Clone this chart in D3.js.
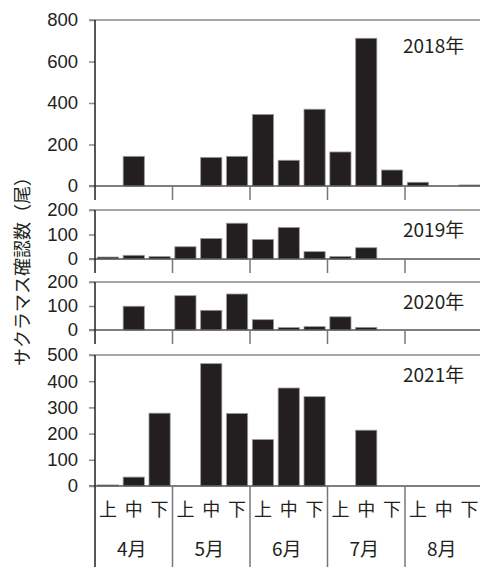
<!DOCTYPE html>
<html>
<head>
<meta charset="utf-8">
<script src="https://cdn.jsdelivr.net/npm/d3@7"></script>
<style>
  body { margin: 0; background: #fff; }
  .tick text { font-family: "Liberation Sans", Arial, sans-serif; font-size: 18.5px; fill: #231f20; }
  .jp { font-family: "Noto Sans CJK JP", sans-serif; fill: #231f20; }
</style>
</head>
<body>
<svg id="chart" width="480" height="567"></svg>
<script>
const months = ['4月', '5月', '6月', '7月', '8月'];
const decades = ['上', '中', '下'];
const years = ['2018年', '2019年', '2020年', '2021年'];
const yMax = [800, 200, 200, 500];
const yStep = [200, 100, 100, 100];

// values per decade: Apr上,中,下, May上,中,下, ... Aug上,中,下
const counts2018 = [0, 143, 0, 0, 138, 143, 345, 124, 370, 164, 712, 77, 18, 0, 5];
const counts2019 = [8, 15, 10, 50, 84, 146, 80, 129, 30, 10, 46, 0, 0, 0, 0];
const counts2020 = [0, 99, 0, 143, 82, 150, 43, 10, 14, 55, 11, 0, 0, 0, 0];
const counts2021 = [4, 34, 278, 0, 467, 277, 177, 374, 341, 0, 213, 0, 0, 0, 0];
const series = [counts2018, counts2019, counts2020, counts2021];

const yTitle = 'サクラマス確認数（尾）';

const svg = d3.select('#chart');
const left = 95;
const right = 482.5;
const panels = [
  { top: 20, bottom: 186 },
  { top: 210, bottom: 259 },
  { top: 282, bottom: 330 },
  { top: 355, bottom: 486 }
];

const slots = d3.range(15).map(i => months[Math.floor(i / 3)] + decades[i % 3]);
const xScale = d3.scaleBand()
  .domain(slots)
  .range([left, right])
  .paddingInner(0.18)
  .paddingOuter(0.09);
const monthScale = d3.scaleBand()
  .domain(months)
  .range([left, right]);
const monthEdges = months.map(m => monthScale(m));

panels.forEach((p, k) => {
  const yScale = d3.scaleLinear()
    .domain([0, yMax[k]])
    .range([p.bottom, p.top]);
  const g = svg.append('g');

  // top frame line
  g.append('line')
    .attr('x1', left - 6).attr('x2', 480)
    .attr('y1', p.top).attr('y2', p.top)
    .attr('stroke', '#8a8a8a').attr('stroke-width', 1.5);

  g.selectAll('rect').data(series[k])
    .enter().append('rect')
      .attr('x', (d, i) => xScale(slots[i]))
      .attr('y', d => yScale(d))
      .attr('width', xScale.bandwidth())
      .attr('height', d => p.bottom - yScale(d))
      .attr('fill', '#231f20')
      .attr('stroke', '#9a9a9a')
      .attr('stroke-width', 0.8);

  // baseline
  g.append('line')
    .attr('x1', left - 6).attr('x2', 480)
    .attr('y1', p.bottom).attr('y2', p.bottom)
    .attr('stroke', '#555').attr('stroke-width', 1.5);

  const yAxis = d3.axisLeft(yScale)
    .tickValues(d3.range(0, yMax[k] + 1, yStep[k]))
    .tickSize(6)
    .tickPadding(11);
  const yAxisG = g.append('g')
    .attr('transform', `translate(${left},0)`)
    .call(yAxis);
  yAxisG.select('.domain').remove();
  yAxisG.selectAll('.tick line').attr('stroke', '#8a8a8a').attr('stroke-width', 1.5);

  // month separator ticks below the baseline
  const tickEnd = k === 3 ? 567 : p.bottom + 14;
  g.selectAll('.sep').data(monthEdges)
    .enter().append('line')
      .attr('class', 'sep')
      .attr('x1', d => d).attr('x2', d => d)
      .attr('y1', p.bottom).attr('y2', tickEnd)
      .attr('stroke', (d, i) => i === 0 ? '#231f20' : '#777')
      .attr('stroke-width', 1.5);

  // left axis line
  g.append('line')
    .attr('x1', left).attr('x2', left)
    .attr('y1', p.top).attr('y2', p.bottom)
    .attr('stroke', '#231f20').attr('stroke-width', 1.5);

  g.append('text')
    .attr('class', 'jp')
    .attr('x', 403)
    .attr('y', (p.top + (k === 0 ? 26 : 20)))
    .attr('dy', '0.35em')
    .style('font-size', '19px')
    .text(years[k]);
});

// decade labels
svg.selectAll('.dec').data(slots)
  .enter().append('text')
    .attr('class', 'jp dec')
    .attr('x', d => xScale(d) + xScale.bandwidth() / 2)
    .attr('y', 510)
    .attr('dy', '0.35em')
    .attr('text-anchor', 'middle')
    .style('font-size', '18px')
    .text(d => d.slice(-1));

// month labels
svg.selectAll('.mon').data(months)
  .enter().append('text')
    .attr('class', 'jp mon')
    .attr('x', d => monthScale(d) + monthScale.bandwidth() / 2 - 2)
    .attr('y', 549)
    .attr('dy', '0.35em')
    .attr('text-anchor', 'middle')
    .style('font-size', '19px')
    .text(d => d);

svg.append('text')
  .attr('class', 'jp')
  .attr('transform', 'translate(23,267) rotate(-90)')
  .attr('text-anchor', 'middle')
  .attr('dy', '0.35em')
  .style('font-size', '18px')
  .text(yTitle);
</script>
</body>
</html>
